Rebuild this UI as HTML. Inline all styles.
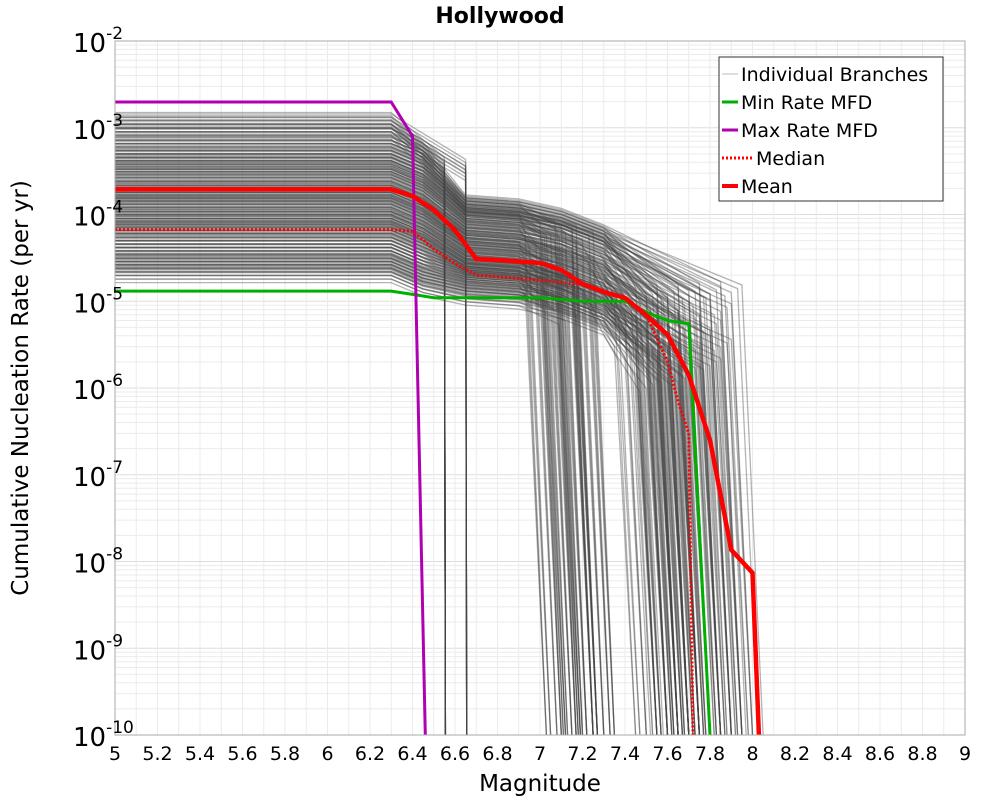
<!DOCTYPE html>
<html><head><meta charset="utf-8"><style>
body{margin:0;background:#fff;font-family:"Liberation Sans","DejaVu Sans",sans-serif}
svg text{font-family:"DejaVu Sans","Liberation Sans",sans-serif}
</style></head><body>
<svg id="chart" width="1000" height="800" viewBox="0 0 1000 800" xmlns="http://www.w3.org/2000/svg">
<rect width="1000" height="800" fill="#fff"/>
<text x="500" y="23" text-anchor="middle" font-size="22" font-weight="bold">Hollywood</text>
<g id="grid"></g>
<defs><clipPath id="clip"><rect x="115" y="41" width="850" height="694"/></clipPath></defs>
<g id="branches" clip-path="url(#clip)"></g>
<g id="main" clip-path="url(#clip)"></g>
<rect x="115" y="41" width="850" height="694" fill="none" stroke="#aaa"/>
<g id="xticks"></g>
<g id="yticks"></g>
<text x="540" y="791" text-anchor="middle" font-size="23">Magnitude</text>
<text transform="translate(28,388) rotate(-90)" text-anchor="middle" font-size="23">Cumulative Nucleation Rate (per yr)</text>
<g id="legend">
<rect x="719" y="57" width="224" height="144" fill="#fff" stroke="#333"/>
<g><line x1="722" x2="738" y1="74" y2="74" stroke="#bbb" stroke-width="1"/><text x="741" y="81" font-size="19">Individual Branches</text></g>
<g><line x1="722" x2="738" y1="102" y2="102" stroke="#00b000" stroke-width="3"/><text x="741" y="109" font-size="19">Min Rate MFD</text></g>
<g><line x1="722" x2="738" y1="130" y2="130" stroke="#b000b0" stroke-width="3"/><text x="741" y="137" font-size="19">Max Rate MFD</text></g>
<g><line x1="722" x2="752" y1="158" y2="158" stroke="#f00" stroke-width="3" stroke-dasharray="2,2"/><text x="756" y="165" font-size="19">Median</text></g>
<g><line x1="722" x2="738" y1="186" y2="186" stroke="#f00" stroke-width="4"/><text x="741" y="193" font-size="19">Mean</text></g>
</g>
</svg>
<script>
const xTicks=[5,5.2,5.4,5.6,5.8,6,6.2,6.4,6.6,6.8,7,7.2,7.4,7.6,7.8,8,8.2,8.4,8.6,8.8,9];
const yExps=[-2,-3,-4,-5,-6,-7,-8,-9,-10];
const meanM=[5,6.3,6.4,6.5,6.6,6.7,6.8,7.0,7.1,7.2,7.3,7.4,7.5,7.6,7.7,7.8,7.9,8.0,8.03];
const meanV=[1.95e-4,1.95e-4,1.63e-4,1.13e-4,6.6e-5,3.07e-5,2.99e-5,2.76e-5,2.29e-5,1.58e-5,1.28e-5,1.09e-5,6.9e-6,4.1e-6,1.41e-6,2.5e-7,1.36e-8,7.4e-9,1e-10];
const medM=[5,6.3,6.4,6.5,6.6,6.7,7.0,7.2,7.4,7.5,7.6,7.65,7.7,7.72];
const medV=[6.7e-5,6.7e-5,6.4e-5,4e-5,2.7e-5,2e-5,1.75e-5,1.55e-5,1.1e-5,7e-6,2e-6,7e-7,3e-7,1e-10];
const minM=[5,6.3,6.4,6.5,7.0,7.1,7.2,7.4,7.5,7.6,7.7,7.8];
const minV=[1.31e-5,1.31e-5,1.2e-5,1.1e-5,1.1e-5,1.05e-5,1e-5,1e-5,7.5e-6,6e-6,5.5e-6,1e-10];
const maxM=[5,6.3,6.4,6.46];
const maxV=[1.98e-3,1.98e-3,8e-4,1e-10];
const brStart=[1.25e-3,1.2e-3,1.1e-3,1.0e-3,9e-4,8e-4,7e-4,6.5e-4,6e-4,5.5e-4,5e-4,4.6e-4,4.2e-4,4e-4,3.8e-4,3.5e-4,3.3e-4,3e-4,2.8e-4,2.6e-4,2.4e-4,2.2e-4,2e-4,1.9e-4,1.8e-4,1.7e-4,1.6e-4,1.5e-4,1.4e-4,1.3e-4,1.2e-4,1.1e-4,1e-4,9.5e-5,9e-5,8.5e-5,8e-5,7.5e-5,7e-5,6.5e-5,6e-5,5.5e-5,5e-5,4.6e-5,4.2e-5,3.8e-5,3.5e-5,3.2e-5,3e-5,2.8e-5,2.6e-5,2.4e-5,2.2e-5,2e-5];
const brPlateau=[0,0,0,0,0,1.4e-4,1.35e-4,1.3e-4,1.3e-4,1.25e-4,1.2e-4,1.2e-4,1.1e-4,1.05e-4,1e-4,9.5e-5,9e-5,8.5e-5,8e-5,7.5e-5,7e-5,6.5e-5,6e-5,5.8e-5,5.5e-5,5.2e-5,5e-5,4.8e-5,4.5e-5,4.2e-5,4e-5,3.8e-5,3.5e-5,3.3e-5,3.1e-5,3e-5,2.8e-5,2.7e-5,2.6e-5,2.5e-5,2.4e-5,2.3e-5,2.2e-5,2.1e-5,2e-5,1.9e-5,1.8e-5,1.7e-5,1.6e-5,1.5e-5,1.4e-5,1.3e-5,1.2e-5,1.1e-5];
const brDrop=[6.55,6.65,6.55,6.65,6.55,8.0,7.9,7.8,7.7,7.22,7.15,7.6,7.85,7.3,7.65,7.08,7.75,7.95,7.5,7.22,7.7,7.8,7.15,7.6,7.9,7.3,7.65,7.75,7.08,7.85,7.55,7.22,7.7,7.95,7.15,7.6,7.8,7.3,7.65,7.5,7.75,7.22,7.7,7.08,7.9,7.6,7.15,7.8,7.65,7.3,7.7,7.75,7.22,7.6];
const rateScales=[0.82,0.9,1,1.1,1.2];
const dropShifts=[-0.03,0,0.03,0.05,-0.05];
const NS="http://www.w3.org/2000/svg";
const X=m=>115+(m-5)*212.5;
const Y=v=>41+(-2-Math.log10(v))*86.75;
function el(tag,attrs,parent){const e=document.createElementNS(NS,tag);for(const k in attrs)e.setAttribute(k,attrs[k]);parent.appendChild(e);return e;}
const grid=document.getElementById('grid');
for(let e=-10;e<-2;e++){for(let k=1;k<10;k++){const y=Y(k*Math.pow(10,e));const ln=el('line',{x1:115,x2:965,y1:y,y2:y,stroke:k==1?'#ddd':'#ebebeb','stroke-width':1},grid);

}}
for(let i=0;i<=40;i++){const x=X(5+i*0.1);const ln=el('line',{x1:x,x2:x,y1:41,y2:735,stroke:'#ebebeb','stroke-width':1},grid);

}
const xt=document.getElementById('xticks');
xTicks.forEach(t=>{const tx=el('text',{x:X(t),y:760,'text-anchor':'middle','font-size':19},xt);tx.textContent=String(t);

});
const yt=document.getElementById('yticks');
yExps.forEach(e=>{const y=Y(Math.pow(10,e));const tx=el('text',{x:73,y:y+11,'font-size':26},yt);tx.textContent='10';


const s=el('tspan',{dy:-13,'font-size':17},tx);s.textContent=String(e);});
function path(ms,vs,parent,attrs,name){let d='';ms.forEach((m,i)=>{d+=(i?'L':'M')+X(m).toFixed(1)+','+Y(vs[i]).toFixed(1);});attrs.d=d;attrs.fill='none';const p=el('path',attrs,parent);

return p;}
const br=document.getElementById('branches');
brStart.forEach((s0,i)=>{rateScales.forEach((f,j)=>{
const s=s0*f,p=brPlateau[i]*f;const d=brDrop[i]+(brDrop[i]<6.7?0:dropShifts[j]);let ms,vs;
if(d<6.7){ms=[5,6.3,d,d+0.005];vs=[s,s,s*0.3,1e-10];}
else if(d<7.4){ms=[5,6.3,6.45,6.65,6.9,d-0.1,d];vs=[s,s,Math.max(s*0.7,p),p,p*0.9,p*0.55,1e-10];}
else{const k=Math.min(7.3,d-0.25);ms=[5,6.3,6.45,6.65,6.9,7.1,k,d-0.1,d];vs=[s,s,Math.max(s*0.7,p),p,p*0.9,p*0.7,p*0.45,p*0.1,1e-10];}
path(ms,vs,br,{stroke:'#444','stroke-width':1.3,'stroke-opacity':0.4},'branch-line');});});
const mn=document.getElementById('main');
path(minM,minV,mn,{stroke:'#00b000','stroke-width':3},'min-rate-mfd');
path(maxM,maxV,mn,{stroke:'#b000b0','stroke-width':3},'max-rate-mfd');
path(medM,medV,mn,{stroke:'#f00','stroke-width':3,'stroke-dasharray':'2,2'},'median-line');
path(meanM,meanV,mn,{stroke:'#f00','stroke-width':4.5},'mean-line');
</script>
</body></html>
